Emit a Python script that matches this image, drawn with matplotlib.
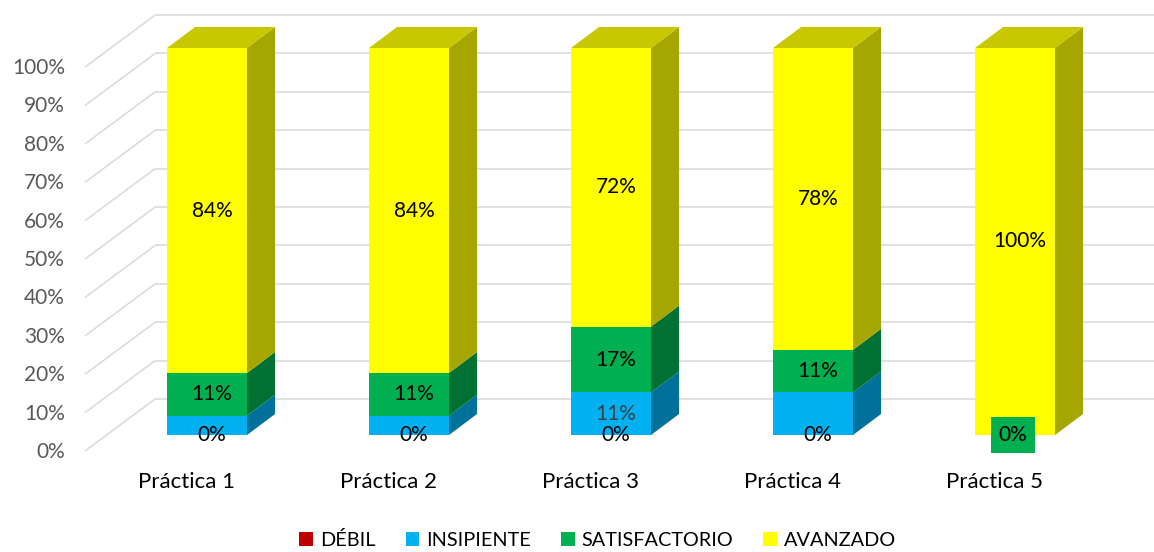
import numpy as np
import matplotlib.pyplot as plt
from matplotlib.patches import Polygon, Patch

plt.rcParams['font.family'] = ['Lato', 'DejaVu Sans']

categorias = ['Práctica 1', 'Práctica 2', 'Práctica 3', 'Práctica 4', 'Práctica 5']
niveles = ['DÉBIL', 'INSIPIENTE', 'SATISFACTORIO', 'AVANZADO']
debil = [0, 0, 0, 0, 0]
insipiente = [5, 5, 11, 11, 0]
satisfactorio = [11, 11, 17, 11, 0]
avanzado = [84, 84, 72, 78, 100]
ticks = [0, 10, 20, 30, 40, 50, 60, 70, 80, 90, 100]

# which value labels are shown for each series
ver_debil = [True, True, True, True, False]
ver_insipiente = [False, False, True, False, False]
ver_satisfactorio = [True, True, True, True, True]
ver_avanzado = [True, True, True, True, True]

color_frente = ['#C00000', '#00B0F0', '#00B050', '#FFFF00']
color_lado = ['#8A0000', '#00719A', '#007033', '#A6A600']
color_tope = ['#A00000', '#0090C4', '#00903F', '#C8C800']

fig = plt.figure(figsize=(11.54, 5.52), dpi=100)
ax = fig.add_axes([0, 0, 1, 1])
ax.set_xlim(-1.0248, 4.688)
ax.set_ylim(-30.23, 112.4)
ax.axis('off')

ancho = 0.396
dx, dy = 0.139, 5.43
k = 0.992
muro_x0, muro_x1 = -0.604, -0.257
muro_y0, muro_y1 = -4.13, 9.30

# side and back walls gridlines
for t in ticks:
    ax.plot([muro_x0, muro_x1], [muro_y0 + t * k, muro_y1 + t * k],
            color='#D9D9D9', lw=1.1, zorder=1, solid_capstyle='butt')
    ax.plot([muro_x1, 4.7], [muro_y1 + t * k, muro_y1 + t * k],
            color='#D9D9D9', lw=1.1, zorder=1, solid_capstyle='butt')
    ax.text(-0.703, -4.39 + t * k, f'{t}%', ha='right', va='center',
            fontsize=15, color='#595959')

series = [debil, insipiente, satisfactorio, avanzado]
visibles = [ver_debil, ver_insipiente, ver_satisfactorio, ver_avanzado]

for i, cat in enumerate(categorias):
    base = 0
    xl, xr = i - ancho / 2, i + ancho / 2
    for s, vals in enumerate(series):
        v = vals[i]
        if v > 0:
            y0, y1 = base, base + v
            ax.add_patch(Polygon([(xl, y0), (xr, y0), (xr, y1), (xl, y1)],
                                 closed=True, fc=color_frente[s], ec='none', zorder=3))
            ax.add_patch(Polygon([(xr, y0), (xr + dx, y0 + dy), (xr + dx, y1 + dy), (xr, y1)],
                                 closed=True, fc=color_lado[s], ec='none', zorder=3))
        base += v
    # top face of the stack
    ult = max(s for s in range(4) if series[s][i] > 0)
    ax.add_patch(Polygon([(xl, base), (xr, base), (xr + dx, base + dy), (xl + dx, base + dy)],
                         closed=True, fc=color_tope[ult], ec='none', zorder=3))

    # value labels
    base = 0
    for s, vals in enumerate(series):
        v = vals[i]
        if visibles[s][i]:
            col = '#404040' if s == 1 else 'black'
            kw = {}
            xt = i + 0.025
            if v == 0 and s == 2:
                kw['bbox'] = dict(boxstyle='square,pad=0.38', fc=color_frente[2], ec='none')
                xt = i - 0.01
            ax.text(xt, base + v / 2, f'{v}%', ha='center', va='center',
                    fontsize=15, color=col, zorder=5, **kw)
        base += v

    ax.text(i - 0.1, -12.1, cat, ha='center', va='center', fontsize=16, color='black')

handles = [Patch(fc=c, ec='none', label=n) for c, n in zip(color_frente, niveles)]
fig.legend(handles=handles, ncol=4, loc='center', bbox_to_anchor=(0.518, 0.022),
           frameon=False, fontsize=14.3, handlelength=0.7, handleheight=0.7,
           handletextpad=0.35, columnspacing=1.5)

fig.savefig('out.png', dpi=100)
